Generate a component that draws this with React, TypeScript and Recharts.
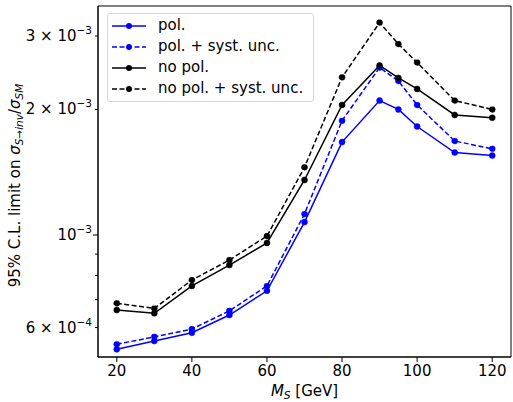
import {
  LineChart, Line, XAxis, YAxis, Legend, ReferenceArea,
} from 'recharts'

// M_S [GeV]
const MASS = [20, 30, 40, 50, 60, 70, 80, 90, 95, 100, 110, 120]

// 95% C.L. limits on sigma(S->inv)/sigma(SM)
const POL = [5.32e-4, 5.57e-4, 5.83e-4, 6.43e-4, 7.35e-4, 1.074e-3, 1.67e-3, 2.1e-3, 2.0e-3, 1.82e-3, 1.576e-3, 1.55e-3]
const POL_SYST = [5.47e-4, 5.7e-4, 5.95e-4, 6.58e-4, 7.55e-4, 1.123e-3, 1.88e-3, 2.52e-3, 2.34e-3, 2.05e-3, 1.68e-3, 1.61e-3]
const NOPOL = [6.61e-4, 6.49e-4, 7.55e-4, 8.47e-4, 9.57e-4, 1.355e-3, 2.05e-3, 2.55e-3, 2.38e-3, 2.24e-3, 1.94e-3, 1.91e-3]
const NOPOL_SYST = [6.86e-4, 6.67e-4, 7.8e-4, 8.71e-4, 9.94e-4, 1.453e-3, 2.388e-3, 3.23e-3, 2.87e-3, 2.59e-3, 2.1e-3, 2.0e-3]

const SERIES_KEYS = ['pol', 'polSyst', 'nopol', 'nopolSyst']
const SERIES_NAMES = ['pol.', 'pol. + syst. unc.', 'no pol.', 'no pol. + syst. unc.']
const SERIES_COLORS = ['#0000ff', '#0000ff', '#000000', '#000000']
const SERIES_DASHED = [false, true, false, true]

const X_TICKS = [20, 40, 60, 80, 100, 120]
const Y_TICKS = [6e-4, 7e-4, 8e-4, 9e-4, 1e-3, 2e-3, 3e-3]
const Y_TICK_BASE = ['6 × 10', '', '', '', '10', '2 × 10', '3 × 10']
const Y_TICK_EXP = ['−4', '', '', '', '−3', '−3', '−3']

const X_DOMAIN: [number, number] = [15, 125]
const Y_DOMAIN: [number, number] = [5.1e-4, 3.54e-3]

const FONT = '"DejaVu Sans", sans-serif'

const data = MASS.map((m, i) => ({
  m,
  pol: POL[i],
  polSyst: POL_SYST[i],
  nopol: NOPOL[i],
  nopolSyst: NOPOL_SYST[i],
}))

const YTick = (props: any) => {
  const { x, y, payload } = props
  const idx = Y_TICKS.findIndex(t => Math.abs(t - payload.value) / t < 1e-6)
  const major = Math.abs(payload.value - 1e-3) < 1e-9
  const base = idx >= 0 ? Y_TICK_BASE[idx] : ''
  return (
    <g>
      <line x1={x} x2={x - (major ? 5 : 3)} y1={y} y2={y} stroke="#000" strokeWidth={1} />
      {base && (
        <text x={x - 6} y={y} dy={5} textAnchor="end" fontFamily={FONT} fontSize={15} fill="#000">
          {base}
          <tspan dy={-7} fontSize={10.5}>{Y_TICK_EXP[idx]}</tspan>
        </text>
      )}
    </g>
  )
}

const YLabel = (props: any) => {
  const { viewBox } = props
  const cx = 15
  const cy = viewBox.y + viewBox.height / 2 + 4
  return (
    <text x={cx} y={cy} transform={`rotate(-90 ${cx} ${cy})`} textAnchor="middle"
      dominantBaseline="central" fontFamily={FONT} fontSize={15} fill="#000">
      95% C.L. limit on <tspan fontStyle="italic">σ</tspan>
      <tspan dy={4} fontSize={10.5} fontStyle="italic">S→inv</tspan>
      <tspan dy={-4}>/</tspan>
      <tspan fontStyle="italic">σ</tspan>
      <tspan dy={4} fontSize={10.5} fontStyle="italic">SM</tspan>
    </text>
  )
}

const XLabel = (props: any) => {
  const { viewBox } = props
  const cx = viewBox.x + viewBox.width / 2
  return (
    <text x={cx} y={viewBox.y + 39} textAnchor="middle" fontFamily={FONT} fontSize={15} fill="#000">
      <tspan fontStyle="italic">M</tspan>
      <tspan dy={3} fontSize={10.5} fontStyle="italic">S</tspan>
      <tspan dy={-3}> [GeV]</tspan>
    </text>
  )
}

const renderLegend = () => (
  <div style={{
    border: '1px solid #d6d6d6', borderRadius: 3, background: 'rgba(255,255,255,0.8)',
    padding: '1px 10px 2px 4px', fontFamily: FONT, fontSize: 15, color: '#000', lineHeight: 1,
  }}>
    {SERIES_KEYS.map((k, i) => (
      <div key={k} style={{ display: 'flex', alignItems: 'center', height: 21 }}>
        <svg width={34} height={10} style={{ display: 'block' }}>
          <line x1={0} x2={34} y1={5} y2={5} stroke={SERIES_COLORS[i]} strokeWidth={1.5}
            strokeDasharray={SERIES_DASHED[i] ? '5 2.5' : undefined} />
          <circle cx={17} cy={5} r={3} fill={SERIES_COLORS[i]} />
        </svg>
        <span style={{ marginLeft: 12 }}>{SERIES_NAMES[i]}</span>
      </div>
    ))}
  </div>
)

export default function App() {
  return (
    <div style={{ position: 'absolute', left: 0, top: 0, width: 513, height: 402, background: '#fff' }}>
      <LineChart width={513} height={402} data={data} margin={{ top: 6, right: 2, left: 0, bottom: 0 }}>
        <XAxis
          dataKey="m"
          type="number"
          domain={X_DOMAIN}
          ticks={X_TICKS}
          allowDataOverflow
          height={45}
          stroke="#000"
          tickSize={5}
          tickMargin={3}
          tick={{ fill: '#000', fontSize: 15, fontFamily: FONT }}
          label={<XLabel />}
        />
        <YAxis
          scale="log"
          domain={Y_DOMAIN}
          ticks={Y_TICKS}
          allowDataOverflow
          width={98}
          stroke="#000"
          tickSize={0}
          tickMargin={0}
          tickLine={false}
          tick={<YTick />}
          interval={0}
          label={<YLabel />}
        />
        <ReferenceArea x1={X_DOMAIN[0]} x2={X_DOMAIN[1]} y1={Y_DOMAIN[0]} y2={Y_DOMAIN[1]}
          fill="none" stroke="#000" strokeWidth={1} ifOverflow="visible" />
        <Legend
          layout="horizontal"
          verticalAlign="middle"
          align="center"
          content={renderLegend}
          wrapperStyle={{ left: 107, top: 13, width: 'auto', height: 'auto' }}
        />
        {SERIES_KEYS.map((k, i) => (
          <Line
            key={k}
            dataKey={k}
            name={SERIES_NAMES[i]}
            stroke={SERIES_COLORS[i]}
            strokeWidth={1.5}
            strokeDasharray={SERIES_DASHED[i] ? '5 2.5' : undefined}
            dot={{ r: 3, fill: SERIES_COLORS[i], stroke: SERIES_COLORS[i], strokeWidth: 0.5 }}
            activeDot={false}
            isAnimationActive={false}
          />
        ))}
      </LineChart>
    </div>
  )
}
